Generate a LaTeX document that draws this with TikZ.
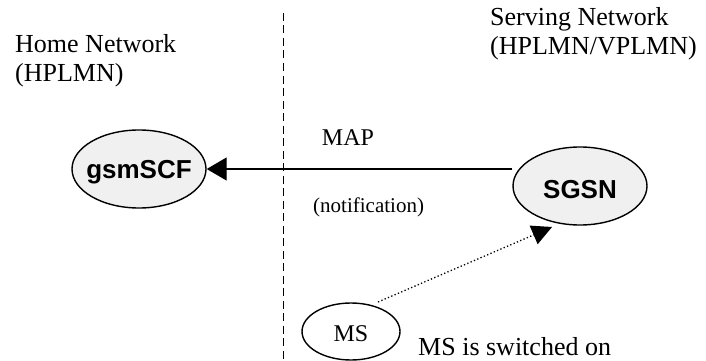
\documentclass[tikz,border=0pt]{standalone}
\usepackage{fontspec}
\setmainfont{Liberation Serif}
\newfontfamily\arialfont{Liberation Sans}
\usetikzlibrary{shapes.geometric,arrows.meta}
\definecolor{ellfill}{HTML}{F0F0F0}
\tikzset{
  netlabel/.style={anchor=north west, inner sep=0pt, align=left, font=\fontsize{26}{29}\selectfont},
  bigell/.style={draw, ellipse, line width=1.4pt, fill=ellfill, minimum width=134pt, minimum height=78pt, inner sep=0pt},
  boldtxt/.style={font=\arialfont\bfseries\fontsize{26}{30}\selectfont, inner sep=0pt},
  msell/.style={draw, ellipse, line width=1.4pt, fill=white, minimum width=98pt, minimum height=57pt, inner sep=0pt},
  msgline/.style={line width=1.4pt, -{Triangle[length=20pt,width=23pt]}},
  dotline/.style={line width=1.3pt, dash pattern=on 1.3pt off 2.3pt, -{Triangle[length=20pt,width=20pt]}},
  divider/.style={line width=1pt, dash pattern=on 8pt off 4.5pt}
}
\begin{document}
\begin{tikzpicture}[x=1pt,y=-1pt]
\useasboundingbox (0,0) rectangle (706,361);
% divider
\coordinate (dtop) at (283,13);
\coordinate (dbot) at (283,361);
\draw[divider] (dtop) -- (dbot);
% network labels
\node[netlabel] (home) at (15,34) {Home Network\\(HPLMN)};
\node[netlabel] (serving) at (490,7) {Serving Network\\(HPLMN/VPLMN)};
% entities
\node[bigell, label={[boldtxt, yshift=-3pt]center:gsmSCF}] (gsmSCF) at (139,169) {};
\node[bigell, label={[boldtxt, yshift=-4pt]center:SGSN}] (SGSN) at (580,186) {};
\node[msell, label={[font=\fontsize{24}{27}\selectfont, inner sep=0pt, yshift=-2pt]center:MS}] (MS) at (351,331.5) {};
% MAP message
\draw[msgline] (SGSN.west |- gsmSCF.east) -- (gsmSCF.east);
\node[anchor=base, inner sep=0pt, font=\fontsize{24}{28}\selectfont] (map) at (348,145) {MAP};
\node[anchor=base west, inner sep=0pt, font=\fontsize{21}{24}\selectfont] (notif) at (313,212) {(notification)};
% MS switched on
\coordinate (msstart) at (378,302);
\coordinate (mstip) at (552,227);
\draw[dotline] (msstart) -- (mstip);
\node[anchor=base west, inner sep=0pt, font=\fontsize{26}{30}\selectfont] (mson) at (418,355) {MS is switched on};
\end{tikzpicture}
\end{document}
